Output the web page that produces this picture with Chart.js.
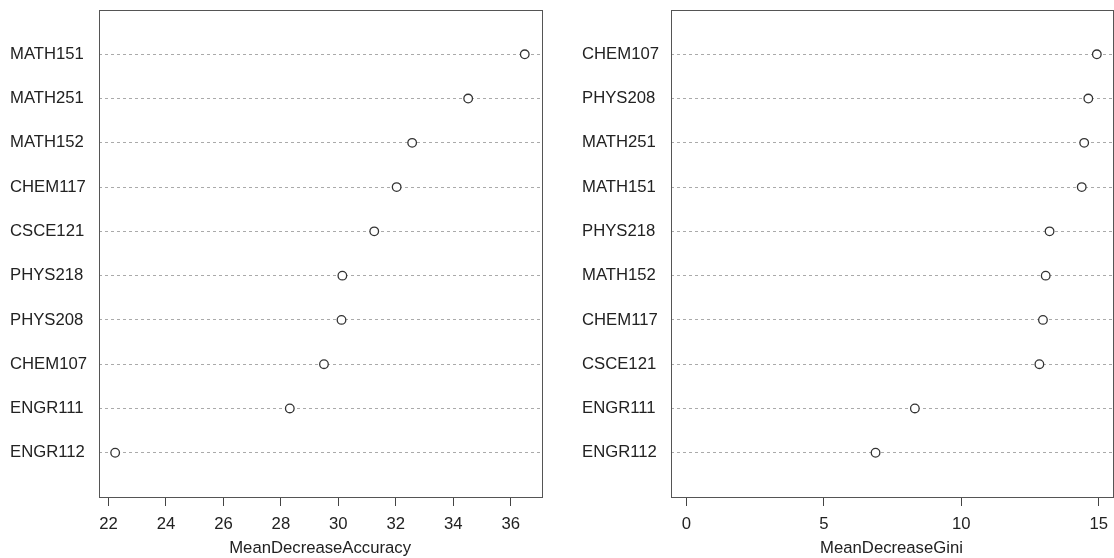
<!DOCTYPE html>
<html>
<head>
<meta charset="utf-8">
<script src="https://cdn.jsdelivr.net/npm/chart.js@4.4.1/dist/chart.umd.min.js"></script>
<style>
  html, body { margin: 0; padding: 0; background: #fff; }
  #wrap { position: relative; width: 1114px; height: 558px; }
  canvas { position: absolute; top: 0; }
</style>
</head>
<body>
<div id="wrap">
  <canvas id="accChart" width="557" height="558" style="left:0"></canvas>
  <canvas id="giniChart" width="557" height="558" style="left:557px"></canvas>
</div>
<script>
// левая панель
const accLabels = ['MATH151', 'MATH251', 'MATH152', 'CHEM117', 'CSCE121', 'PHYS218', 'PHYS208', 'CHEM107', 'ENGR111', 'ENGR112'];
const accValues = [36.49, 34.52, 32.57, 32.03, 31.25, 30.14, 30.11, 29.5, 28.31, 22.23];
const accTicks = [22, 24, 26, 28, 30, 32, 34, 36];

// правая панель
const giniLabels = ['CHEM107', 'PHYS208', 'MATH251', 'MATH151', 'PHYS218', 'MATH152', 'CHEM117', 'CSCE121', 'ENGR111', 'ENGR112'];
const giniValues = [14.93, 14.62, 14.47, 14.38, 13.21, 13.07, 12.97, 12.84, 8.31, 6.88];
const giniTicks = [0, 5, 10, 15];

const textColor = '#222';
const fontFamily = '"Liberation Sans", Arial, Helvetica, sans-serif';
const fontSize = 16.7;

// рамка вокруг области графика
const boxPlugin = {
    id: 'box',
    afterDraw(chart) {
        const a = chart.chartArea;
        const ctx = chart.ctx;
        ctx.save();
        ctx.strokeStyle = '#555';
        ctx.lineWidth = 1;
        ctx.strokeRect(Math.round(a.left) + 0.5, Math.round(a.top) + 0.5,
            Math.round(a.right - a.left), Math.round(a.bottom - a.top));
        ctx.restore();
    }
};

function makeDotChart(canvasId, labels, values, ticks, xMin, xMax, title, padLeft, padRight) {
    const ctx = document.getElementById(canvasId).getContext('2d');
    return new Chart(ctx, {
        type: 'scatter',
        data: {
            datasets: [{
                data: values.map((v, i) => ({ x: v, y: i + 1 })),
                pointRadius: 4.3,
                pointHoverRadius: 4.3,
                pointBorderWidth: 1.3,
                pointBorderColor: '#333',
                pointBackgroundColor: '#fff'
            }]
        },
        options: {
            responsive: false,
            devicePixelRatio: 1,
            animation: false,
            events: [],
            layout: { autoPadding: false, padding: { left: padLeft, right: padRight, top: 9, bottom: 0 } },
            plugins: { legend: { display: false }, tooltip: { enabled: false } },
            scales: {
                x: {
                    type: 'linear',
                    min: xMin,
                    max: xMax,
                    afterBuildTicks: scale => { scale.ticks = ticks.map(v => ({ value: v })); },
                    afterFit: scale => {
                        scale.height = 61;
                        // не даём подписям сдвигать рамку
                        scale.paddingLeft = 0;
                        scale.paddingRight = 0;
                    },
                    grid: { drawOnChartArea: false, drawTicks: true, tickLength: 9, color: '#444' },
                    border: { display: false },
                    ticks: {
                        padding: 8,
                        color: textColor,
                        font: { family: fontFamily, size: fontSize },
                        maxRotation: 0
                    },
                    title: {
                        display: true,
                        text: title,
                        color: textColor,
                        font: { family: fontFamily, size: fontSize },
                        padding: { top: 2, bottom: 0 }
                    }
                },
                y: {
                    type: 'linear',
                    reverse: true,
                    min: 0,
                    max: labels.length + 1,
                    afterBuildTicks: scale => { scale.ticks = labels.map((_, i) => ({ value: i + 1 })); },
                    afterFit: scale => { scale.width = 88.5; },
                    grid: { drawTicks: false, tickLength: 0, color: '#aaa', lineWidth: 1 },
                    border: { display: false, dash: [3, 3] },
                    ticks: {
                        autoSkip: false,
                        crossAlign: 'far',
                        padding: 0,
                        color: textColor,
                        font: { family: fontFamily, size: fontSize },
                        callback: v => labels[v - 1] || ''
                    }
                }
            }
        },
        plugins: [boxPlugin]
    });
}

makeDotChart('accChart', accLabels, accValues, accTicks, 21.65, 37.08, 'MeanDecreaseAccuracy', 10, 15.3);
makeDotChart('giniChart', giniLabels, giniValues, giniTicks, -0.58, 15.5, 'MeanDecreaseGini', 25, 1.5);
</script>
</body>
</html>
